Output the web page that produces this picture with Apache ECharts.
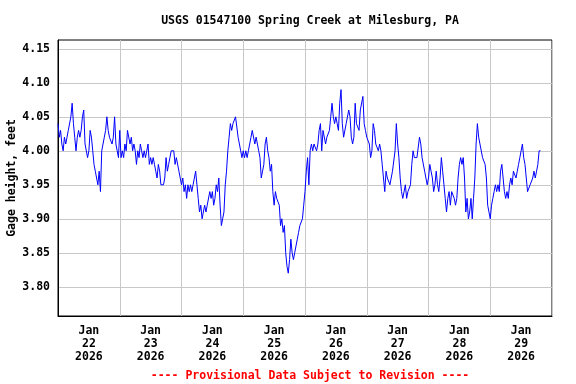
<!DOCTYPE html>
<html><head><meta charset="utf-8">
<script src="https://cdn.jsdelivr.net/npm/echarts@6/dist/echarts.min.js"></script>
<style>html,body{margin:0;padding:0;background:#fff}#c{width:576px;height:384px}</style>
</head><body><div id="c"></div>
<script>
const chartTitle = 'USGS 01547100 Spring Creek at Milesburg, PA';
const yAxisName = 'Gage height, feet';
const footerText = '---- Provisional Data Subject to Revision ----';
const dayLabels = ['Jan\n22\n2026','Jan\n23\n2026','Jan\n24\n2026','Jan\n25\n2026','Jan\n26\n2026','Jan\n27\n2026','Jan\n28\n2026','Jan\n29\n2026'];
const yTicks = [3.80, 3.85, 3.90, 3.95, 4.00, 4.05, 4.10, 4.15];
const stepHours = 0.5; // readings every 30 minutes starting Jan 22 00:00

const jan22 = [4.04,4.02,4.03,4.01,4.00,4.02,4.01,4.02,4.03,4.03,4.05,4.07,4.04,4.02,4.00,4.02,4.03,4.02,4.03,4.05,4.06,4.01,4.01,3.99,4.00,4.03,4.02,4.00,3.98,3.97,3.97,3.95,3.97,3.94,4.00,4.01,4.02,4.03,4.05,4.03,4.02,4.02,4.01,4.02,4.05,4.01,4.00,3.99];
const jan23 = [4.03,3.99,4.00,3.99,4.01,4.00,4.03,4.03,4.01,4.02,4.00,4.01,4.00,3.98,4.00,3.99,4.01,4.00,3.99,4.00,3.99,4.00,4.01,3.98,3.99,3.98,3.99,3.98,3.97,3.96,3.98,3.97,3.95,3.95,3.95,3.96,3.99,3.97,3.98,3.99,4.00,4.00,4.00,3.98,3.99,3.99,3.97,3.96];
const jan24 = [3.95,3.96,3.94,3.95,3.93,3.95,3.94,3.95,3.94,3.95,3.96,3.97,3.95,3.93,3.91,3.92,3.90,3.91,3.92,3.91,3.92,3.92,3.94,3.93,3.94,3.92,3.93,3.95,3.94,3.96,3.92,3.89,3.90,3.91,3.95,3.97,4.00,4.02,4.04,4.03,4.04,4.04,4.05,4.05,4.02,4.01,4.00,3.99];
const jan25 = [4.00,3.99,4.00,3.99,4.00,4.00,4.02,4.03,4.03,4.01,4.02,4.01,4.00,3.99,3.96,3.97,3.98,4.01,4.02,4.00,3.99,3.97,3.98,3.94,3.92,3.94,3.93,3.93,3.92,3.89,3.90,3.88,3.89,3.85,3.83,3.82,3.84,3.87,3.85,3.84,3.85,3.86,3.87,3.88,3.89,3.89,3.90,3.92];
const jan26 = [3.94,3.97,3.99,3.95,4.00,4.01,4.00,4.01,4.01,4.00,4.01,4.03,4.04,4.00,4.03,4.03,4.01,4.02,4.02,4.03,4.05,4.07,4.05,4.04,4.05,4.04,4.03,4.07,4.09,4.04,4.02,4.02,4.04,4.04,4.06,4.05,4.02,4.01,4.02,4.07,4.04,4.04,4.03,4.06,4.06,4.08,4.04,4.03];
const jan27 = [4.02,4.02,4.01,3.99,4.00,4.04,4.03,4.01,4.01,4.00,4.01,4.00,3.98,3.96,3.94,3.97,3.96,3.96,3.95,3.96,3.97,3.97,4.00,4.04,4.01,3.99,3.96,3.94,3.93,3.93,3.95,3.93,3.94,3.94,3.95,3.98,4.00,3.99,3.99,3.99,3.99,4.02,4.01,3.99,3.99,3.97,3.96,3.95];
const jan28 = [3.96,3.98,3.97,3.96,3.94,3.95,3.97,3.95,3.94,3.96,3.99,3.97,3.95,3.93,3.91,3.93,3.94,3.92,3.94,3.94,3.93,3.92,3.93,3.96,3.98,3.99,3.98,3.99,3.96,3.91,3.93,3.90,3.91,3.93,3.90,3.93,3.96,4.01,4.04,4.02,4.01,4.01,3.99,3.99,3.98,3.96,3.92,3.91];
const jan29 = [3.90,3.92,3.93,3.94,3.95,3.94,3.95,3.94,3.97,3.98,3.96,3.94,3.93,3.94,3.93,3.95,3.96,3.95,3.97,3.97,3.96,3.97,3.98,3.99,4.00,4.01,3.99,3.98,3.96,3.94,3.94,3.95,3.95,3.96,3.97,3.96,3.97,3.98,4.00,4.00];

const values = [].concat(jan22, jan23, jan24, jan25, jan26, jan27, jan28, jan29);
const seriesData = values.map((v, i) => [i * stepHours, v]);

const monoFont = '"DejaVu Sans Mono", "Liberation Mono", monospace';
const chart = echarts.init(document.getElementById('c'), null, {renderer: 'canvas'});
chart.setOption({
  animation: false,
  backgroundColor: '#fff',
  title: [
    {text: chartTitle, left: 305, top: 10, textAlign: 'center',
     textStyle: {fontFamily: monoFont, fontWeight: 'bold', fontSize: 11.5, color: '#000'}},
    {text: footerText, left: 305, top: 365, textAlign: 'center',
     textStyle: {fontFamily: monoFont, fontWeight: 'bold', fontSize: 11.5, color: '#ff0000'}}
  ],
  grid: {left: 58, top: 40, right: 24, bottom: 68, show: true, borderColor: '#000', borderWidth: 1,
         backgroundColor: '#fff', containLabel: false, outerBoundsMode: 'none'},
  xAxis: [
    {type: 'value', min: 0, max: 192, interval: 24,
     axisLine: {show: true, onZero: false, lineStyle: {color: '#000', width: 1}},
     axisTick: {show: false}, axisLabel: {show: false},
     splitLine: {show: true, lineStyle: {color: '#c8c8c8', width: 1}}},
    {type: 'category', data: dayLabels, position: 'bottom', offset: 0, boundaryGap: true,
     axisLine: {show: false}, axisTick: {show: false}, splitLine: {show: false},
     axisLabel: {interval: 0, margin: 9, fontFamily: monoFont, fontWeight: 'bold', fontSize: 11.5, lineHeight: 13, color: '#000'}}
  ],
  yAxis: {
    type: 'value', min: 3.757, max: 4.163,
    name: yAxisName, nameLocation: 'middle', nameGap: 40, nameRotate: 90, nameMoveOverlap: false,
    nameTextStyle: {fontFamily: monoFont, fontWeight: 'bold', fontSize: 11.5, color: '#000'},
    axisLine: {show: true, onZero: false, lineStyle: {color: '#000', width: 1}},
    axisTick: {show: false, customValues: yTicks},
    axisLabel: {customValues: yTicks, formatter: v => v.toFixed(2), margin: 8,
      fontFamily: monoFont, fontWeight: 'bold', fontSize: 11.5, color: '#000'},
    splitLine: {show: true, lineStyle: {color: '#c8c8c8', width: 1}}
  },
  series: [{
    type: 'line', xAxisIndex: 0, yAxisIndex: 0, data: seriesData,
    showSymbol: false, symbol: 'none', smooth: false, sampling: null,
    lineStyle: {color: '#0000ff', width: 1}, silent: true
  }]
});
</script>
</body></html>
